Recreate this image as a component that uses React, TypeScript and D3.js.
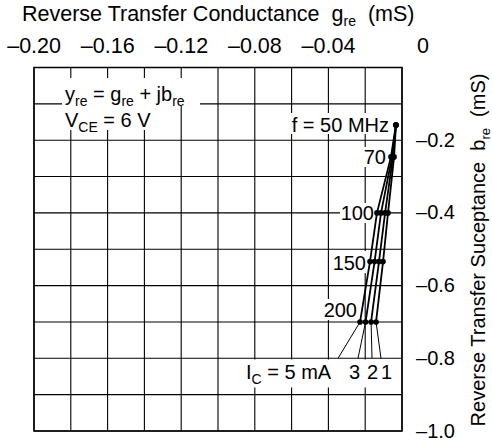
import React from "react";
import * as d3 from "d3";

const freqs = [50, 70, 100, 150, 200];
const freqLabels = ["f = 50 MHz", "70", "100", "150", "200"];
const bValues = [-0.158, -0.246, -0.4, -0.534, -0.7];
const currents = ["5", "3", "2", "1"];
const gIc5 = [-0.0033, -0.006, -0.0136, -0.0174, -0.0228];
const gIc3 = [-0.0033, -0.0054, -0.0114, -0.0149, -0.0198];
const gIc2 = [-0.0033, -0.0049, -0.0092, -0.0125, -0.0168];
const gIc1 = [-0.0033, -0.0043, -0.0076, -0.0103, -0.0141];
const xTicks = [-0.2, -0.16, -0.12, -0.08, -0.04, 0];
const xTickLabels = ["\u20130.20", "\u20130.16", "\u20130.12", "\u20130.08", "\u20130.04", "0"];
const yTicks = [-0.2, -0.4, -0.6, -0.8, -1.0];
const yTickLabels = ["\u20130.2", "\u20130.4", "\u20130.6", "\u20130.8", "\u20131.0"];

const FONT = "'Liberation Sans', Arial, Helvetica, sans-serif";

export default function App() {
  const x = d3.scaleLinear().domain([-0.2, 0]).range([34, 402]);
  const y = d3.scaleLinear().domain([0, -1.0]).range([67.5, 431]);
  const xGrid = d3.range(11).map((i) => -0.2 + i * 0.02);
  const yGrid = d3.range(11).map((i) => -i * 0.1);
  const series = [gIc5, gIc3, gIc2, gIc1];
  const line = d3
    .line<[number, number]>()
    .x((d) => x(d[0]))
    .y((d) => y(d[1]));

  const leaderEnds = [338, 358, 372, 381];
  const leaderY = y(-0.8);

  return (
    <svg
      width={492}
      height={440}
      style={{ position: "absolute", left: 0, top: 0, background: "#fff" }}
      fontFamily={FONT}
      fontSize={20}
    >
      <rect x={0} y={0} width={492} height={440} fill="#fff" />
      {/* grid */}
      {xGrid.map((g, i) => (
        <line key={"gx" + i} x1={x(g)} x2={x(g)} y1={y(0)} y2={y(-1)} stroke="#000" strokeWidth={1.1} />
      ))}
      {yGrid.map((b, i) => (
        <line key={"gy" + i} x1={x(-0.2)} x2={x(0)} y1={y(b)} y2={y(b)} stroke="#000" strokeWidth={1.1} />
      ))}
      <rect x={x(-0.2)} y={y(0)} width={x(0) - x(-0.2)} height={y(-1) - y(0)} fill="none" stroke="#000" strokeWidth={1.5} />

      {/* title */}
      <text x={22} y={21} fontSize={21.5} style={{ whiteSpace: "pre" }}>
        {"Reverse Transfer Conductance  g"}
        <tspan dy={5} fontSize={14}>re</tspan>
        <tspan dy={-5}>{"  (mS)"}</tspan>
      </text>
      {xTicks.map((v, i) => (
        <text key={"xt" + i} x={x(v) + 27} y={53} fontSize={21.5} textAnchor="end">
          {xTickLabels[i]}
        </text>
      ))}
      {yTicks.map((v, i) => (
        <text key={"yt" + i} x={455} y={y(v) + 6.5} textAnchor="end">
          {yTickLabels[i]}
        </text>
      ))}
      <text transform="translate(485,250) rotate(-90)" textAnchor="middle" style={{ whiteSpace: "pre" }}>
        {"Reverse Transfer Suceptance  b"}
        <tspan dy={5} fontSize={13}>re</tspan>
        <tspan dy={-5}>{"  (mS)"}</tspan>
      </text>

      {/* upper-left annotation */}
      <rect x={62} y={78} width={138} height={28} fill="#fff" />
      <rect x={62} y={104} width={96} height={26} fill="#fff" />
      <text x={65} y={101} style={{ whiteSpace: "pre" }}>
        {"y"}
        <tspan dy={5} fontSize={14}>re</tspan>
        <tspan dy={-5}>{" = g"}</tspan>
        <tspan dy={5} fontSize={14}>re</tspan>
        <tspan dy={-5}>{" + jb"}</tspan>
        <tspan dy={5} fontSize={14}>re</tspan>
      </text>
      <text x={65} y={127} style={{ whiteSpace: "pre" }}>
        {"V"}
        <tspan dy={5} fontSize={14}>CE</tspan>
        <tspan dy={-5}>{" = 6 V"}</tspan>
      </text>

      {/* frequency labels */}
      <rect x={287} y={113} width={103} height={21} fill="#fff" />
      <text x={389} y={132} textAnchor="end">{freqLabels[0]}</text>
      <rect x={361} y={147} width={27} height={20} fill="#fff" />
      <text x={386} y={y(bValues[1]) + 7} textAnchor="end">{freqLabels[1]}</text>
      <rect x={340} y={203} width={36} height={20} fill="#fff" />
      <text x={374} y={y(bValues[2]) + 7} textAnchor="end">{freqLabels[2]}</text>
      <rect x={331} y={251} width={37} height={22} fill="#fff" />
      <text x={366} y={y(bValues[3]) + 8} textAnchor="end">{freqLabels[3]}</text>
      <rect x={320} y={299} width={39} height={21} fill="#fff" />
      <text x={357} y={y(bValues[4]) - 5} textAnchor="end">{freqLabels[4]}</text>

      {/* current label */}
      <rect x={240} y={359.5} width={156} height={28} fill="#fff" />
      <text x={246} y={379} style={{ whiteSpace: "pre" }}>
        {"I"}
        <tspan dy={5} fontSize={14}>C</tspan>
        <tspan dy={-5}>{" = 5 mA"}</tspan>
      </text>
      <text x={349} y={379}>{currents[1]}</text>
      <text x={367} y={379}>{currents[2]}</text>
      <text x={381} y={379}>{currents[3]}</text>
      {series.map((s, i) => (
        <line
          key={"ld" + i}
          x1={x(s[4])}
          y1={y(bValues[4])}
          x2={leaderEnds[i]}
          y2={leaderY}
          stroke="#000"
          strokeWidth={1}
        />
      ))}

      {/* curves */}
      {series.map((s, i) => (
        <path
          key={"c" + i}
          d={line(s.map((g, j) => [g, bValues[j]] as [number, number])) || ""}
          fill="none"
          stroke="#000"
          strokeWidth={1.8}
        />
      ))}
      {series.map((s, i) =>
        s.map((g, j) => <circle key={"p" + i + "-" + j} cx={x(g)} cy={y(bValues[j])} r={2.8} fill="#000" />)
      )}
    </svg>
  );
}
